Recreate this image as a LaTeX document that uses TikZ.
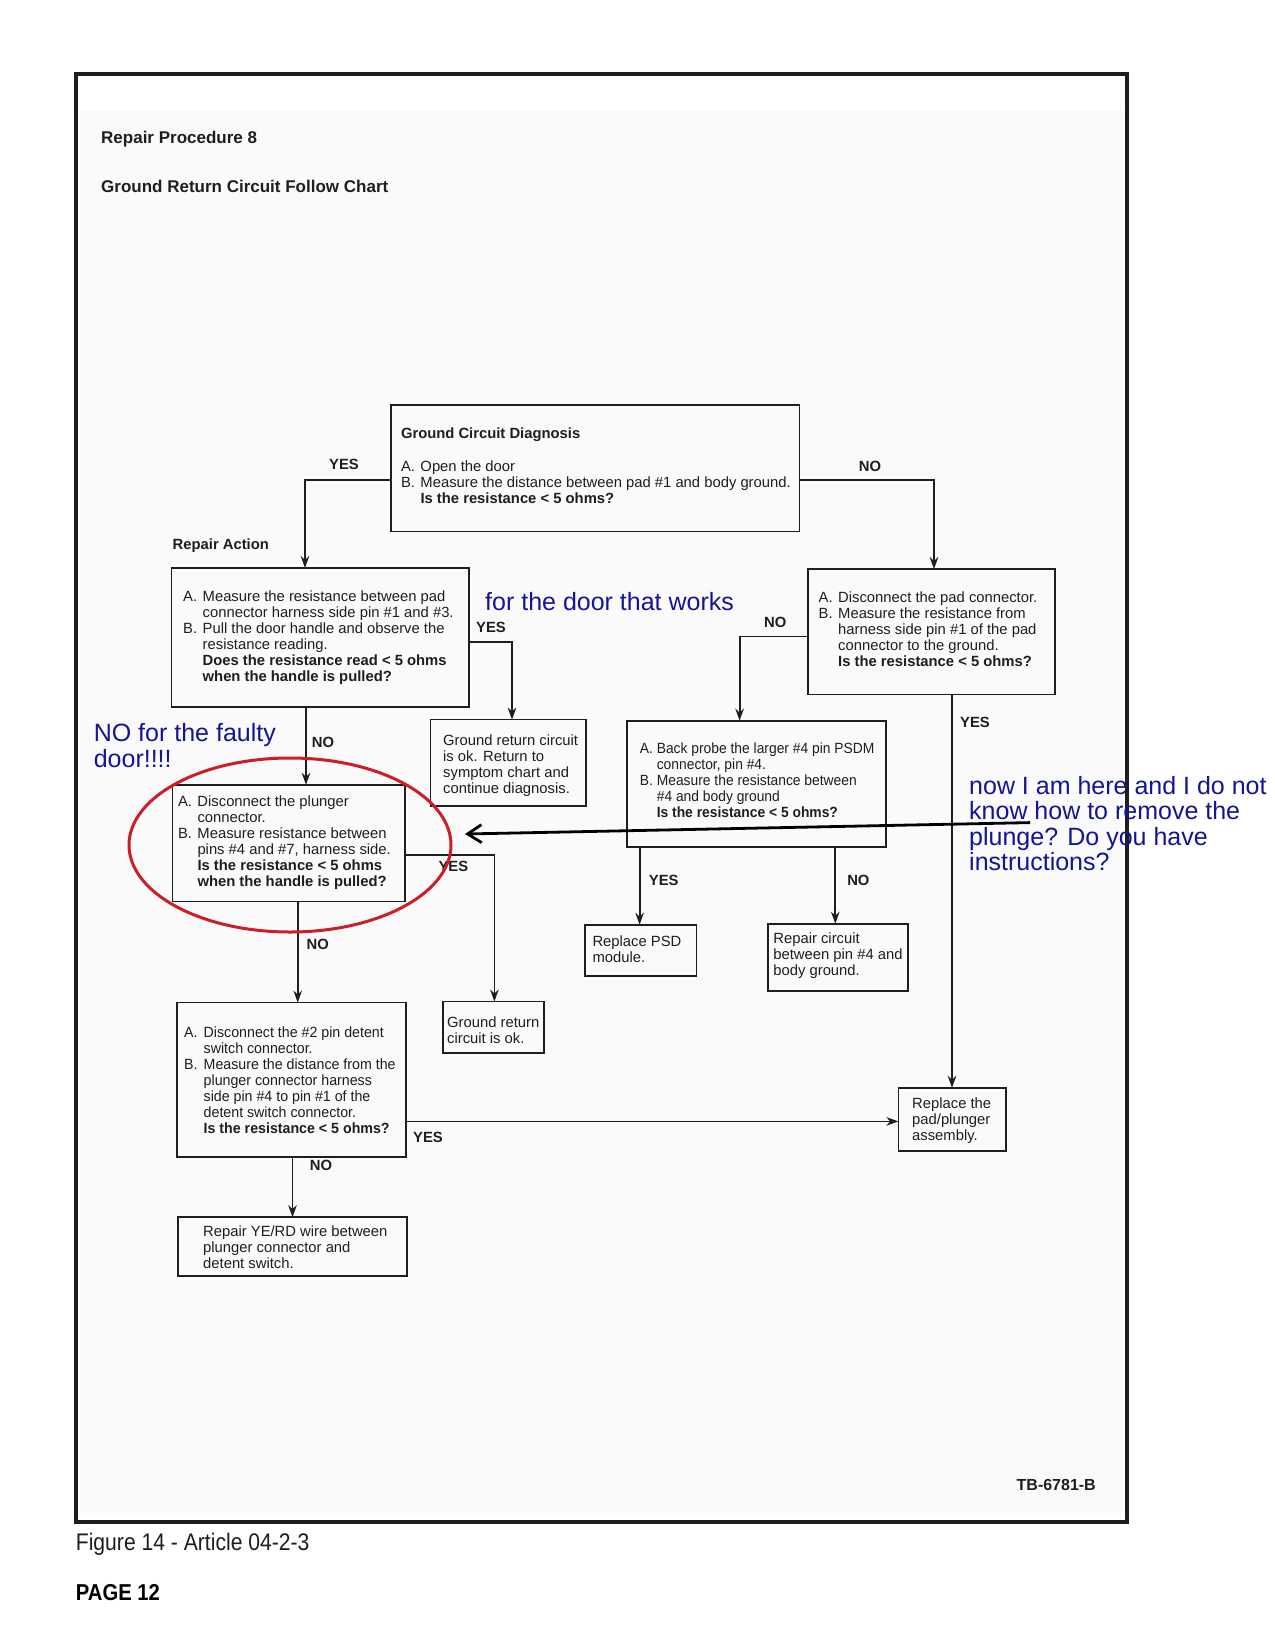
\documentclass[tikz,border=0pt]{standalone}
\usepackage{fontspec}
\setmainfont{Liberation Sans}
\newfontfamily\condfont[FakeStretch=0.935]{Liberation Sans}
\newfontfamily\slimfont[FakeStretch=0.96]{Liberation Sans}
\newfontfamily\narrowfont[FakeStretch=0.88]{Liberation Sans}
\usetikzlibrary{arrows.meta}
\definecolor{noteblue}{RGB}{20,20,150}
\definecolor{circred}{RGB}{205,30,40}
\definecolor{ink}{RGB}{30,30,30}
\newlength\itemind
\setlength\itemind{19.5pt}
\newcommand\ItemLab[1]{\makebox[\itemind][l]{#1}}
\newcommand\ItemInd{\hspace*{\itemind}}
\begin{document}
\begin{tikzpicture}[x=1pt,y=-1pt,
  box/.style={draw=ink, line width=1.7pt, inner sep=0pt, outer sep=0pt},
  txt/.style={anchor=north west, align=left, inner sep=0pt, text=ink, font=\fontsize{14.8}{16}\selectfont},
  lbl/.style={inner sep=0pt, text=ink, font=\fontsize{14.8}{16}\selectfont\bfseries},
  arr/.style={draw=ink, line width=1.8pt, -{Stealth[length=12pt,width=8.5pt]}},
  note/.style={inner sep=0pt, text=noteblue, align=left, font=\fontsize{25}{25.4}\selectfont},
  head/.style={anchor=base west, inner sep=0pt, text=ink, font=\fontsize{17}{19}\selectfont\bfseries}]
\useasboundingbox (0,0) rectangle (1275,1650);
\fill[white] (0,0) rectangle (1275,1650);
\fill[black!2] (79,110) rectangle (1123,1513);
\draw[line width=4pt, ink] (75.7,73.6) rectangle (1126.7,1522.2);

% headings
\node[head] (h1) at (101,143.9) {Repair Procedure 8};
\node[head] (h2) at (101,192.3) {Ground Return Circuit Follow Chart};

% boxes
\node[box, minimum width=408.2pt, minimum height=126.3pt] (top) at (595.4,468.2) {};
\node[box, minimum width=297.7pt, minimum height=139pt] (b2) at (320.4,637.5) {};
\node[box, minimum width=247pt, minimum height=125.3pt] (rb) at (931.5,631.7) {};
\node[box, minimum width=155.7pt, minimum height=86.2pt] (ok1) at (508.2,762.7) {};
\node[box, minimum width=258.8pt, minimum height=126.3pt] (psdm) at (756.4,783.8) {};
\node[box, minimum width=232.5pt, minimum height=116.8pt] (b3) at (288.8,843.2) {};
\node[box, minimum width=101pt, minimum height=51.5pt] (ok2) at (493.5,1027.3) {};
\node[box, minimum width=229.3pt, minimum height=154.6pt] (b4) at (291.4,1079.9) {};
\node[box, minimum width=229.2pt, minimum height=58.8pt] (b5) at (292.4,1246.6) {};
\node[box, minimum width=111.4pt, minimum height=51.6pt] (psd) at (640.7,950.5) {};
\node[box, minimum width=139.9pt, minimum height=67.3pt] (rc) at (838,957.4) {};
\node[box, minimum width=107.3pt, minimum height=63.2pt] (rp) at (952,1119.4) {};

% box texts
\node[lbl, anchor=base west] (ttop) at (400.8,438.7) {Ground Circuit Diagnosis};
\node[txt] (top text) at (400.8,460.5) {\ItemLab{A.}Open the door\\
\ItemLab{B.}Measure the distance between pad \#1 and body ground.\\
\ItemInd\textbf{Is the resistance < 5 ohms?}};

\node[lbl, anchor=base west] (ra) at (172.5,549.3) {Repair Action};

\node[txt] (b2 text) at (183,591) {\ItemLab{A.}Measure the resistance between pad\\
\ItemInd connector harness side pin \#1 and \#3.\\
\ItemLab{B.}Pull the door handle and observe the\\
\ItemInd resistance reading.\\
\ItemInd\textbf{Does the resistance read < 5 ohms}\\
\ItemInd\textbf{when the handle is pulled?}};

\node[txt] (rb text) at (818.5,592) {\ItemLab{A.}Disconnect the pad connector.\\
\ItemLab{B.}Measure the resistance from\\
\ItemInd harness side pin \#1 of the pad\\
\ItemInd connector to the ground.\\
\ItemInd\textbf{Is the resistance < 5 ohms?}};

\node[txt] (ok1 text) at (443,735) {Ground return circuit\\ is ok. Return to\\ symptom chart and\\ continue diagnosis.};

\node[txt, font=\condfont\fontsize{14.8}{16}\selectfont] (psdm text) at (639.6,742.5) {\makebox[17pt][l]{A.}Back probe the larger \#4 pin PSDM\\
\hspace*{17pt}connector, pin \#4.\\
\makebox[17pt][l]{B.}Measure the resistance between\\
\hspace*{17pt}\#4 and body ground\\
\hspace*{17pt}\textbf{Is the resistance < 5 ohms?}};

\node[txt] (b3 text) at (177.8,796) {\ItemLab{A.}Disconnect the plunger\\
\ItemInd connector.\\
\ItemLab{B.}Measure resistance between\\
\ItemInd pins \#4 and \#7, harness side.\\
\ItemInd\textbf{Is the resistance < 5 ohms}\\
\ItemInd\textbf{when the handle is pulled?}};

\node[txt] (ok2 text) at (447,1017) {Ground return\\ circuit is ok.};

\node[txt, font=\slimfont\fontsize{14.8}{16}\selectfont] (b4 text) at (184,1026.5) {\ItemLab{A.}Disconnect the \#2 pin detent\\
\ItemInd switch connector.\\
\ItemLab{B.}Measure the distance from the\\
\ItemInd plunger connector harness\\
\ItemInd side pin \#4 to pin \#1 of the\\
\ItemInd detent switch connector.\\
\ItemInd\textbf{Is the resistance < 5 ohms?}};

\node[txt] (b5 text) at (203,1225.3) {Repair YE/RD wire between\\ plunger connector and\\ detent switch.};
\node[txt] (psd text) at (592.3,936) {Replace PSD\\ module.};
\node[txt] (rc text) at (773.2,933) {Repair circuit\\ between pin \#4 and\\ body ground.};
\node[txt] (rp text) at (912,1098) {Replace the\\ pad/plunger\\ assembly.};

% connectors
\draw[arr] (top.west |- 0,479.7) -| (b2.north -| 305,0);
\draw[arr] (top.east |- 0,479.7) -| (rb.north -| 934,0);
\draw[arr] (b2.east |- 0,641.7) -| (ok1.north -| 512,0);
\draw[arr] (b2.south -| 306,0) -- (b3.north -| 306,0);
\draw[arr] (rb.west |- 0,636.5) -| (psdm.north -| 739.6,0);
\draw[arr] (rb.south -| rp.north) -- (rp.north);
\draw[arr] (b3.east |- 0,855.3) -| (ok2.north -| 494.4,0);
\draw[arr] (b3.south -| 297.7,0) -- (b4.north -| 297.7,0);
\draw[arr] (psdm.south -| 639.6,0) -- (psd.north -| 639.6,0);
\draw[arr] (psdm.south -| 835.3,0) -- (rc.north -| 835.3,0);
\draw[arr] (b4.east |- 0,1121.4) -- (rp.west |- 0,1121.4);
\draw[arr] (b4.south -| 292.5,0) -- (b5.north -| 292.5,0);

% labels
\node[lbl] (yes1) at (344,464) {YES};
\node[lbl] (no1) at (870,466) {NO};
\node[lbl] (yes2) at (491,627) {YES};
\node[lbl] (no2) at (775.3,622.8) {NO};
\node[lbl] (yes3) at (975,722.7) {YES};
\node[lbl] (no3) at (323,742.7) {NO};
\node[lbl] (yes4) at (453.4,866) {YES};
\node[lbl] (no4) at (317.7,944.7) {NO};
\node[lbl] (yes5) at (663.8,880.5) {YES};
\node[lbl] (no5) at (858.4,880.5) {NO};
\node[lbl] (yes6) at (428,1137) {YES};
\node[lbl] (no6) at (321,1165.6) {NO};

% annotations
\draw[circred, line width=3pt] (290,845) ellipse [x radius=161pt, y radius=87pt];
\node[note, anchor=base west] (n1) at (485,610) {for the door that works};
\node[note, anchor=north west] (n2) at (93.6,723.3) {NO for the faulty\\door!!!!};
\node[note, anchor=north west] (n3) at (969,776) {now I am here and I do not\\know how to remove the\\plunge? Do you have\\instructions?};
\coordinate (hs) at (1030,822.6);
\coordinate (he) at (465,834);
\draw[black, line width=2.8pt, -{Straight Barb[length=14pt,width=18pt]}] (hs) -- (he);

% footer
\node[anchor=base east, inner sep=0pt, text=ink, font=\fontsize{16}{18}\selectfont\bfseries] (tb) at (1096,1490) {TB-6781-B};
\node[anchor=base west, inner sep=0pt, text=ink, font=\narrowfont\fontsize{24}{26}\selectfont] (fig) at (75.7,1550.8) {Figure 14 - Article 04-2-3};
\node[anchor=base west, inner sep=0pt, text=black, font=\narrowfont\fontsize{23}{25}\selectfont\bfseries] (pg) at (75.7,1600) {PAGE 12};
\end{tikzpicture}
\end{document}
